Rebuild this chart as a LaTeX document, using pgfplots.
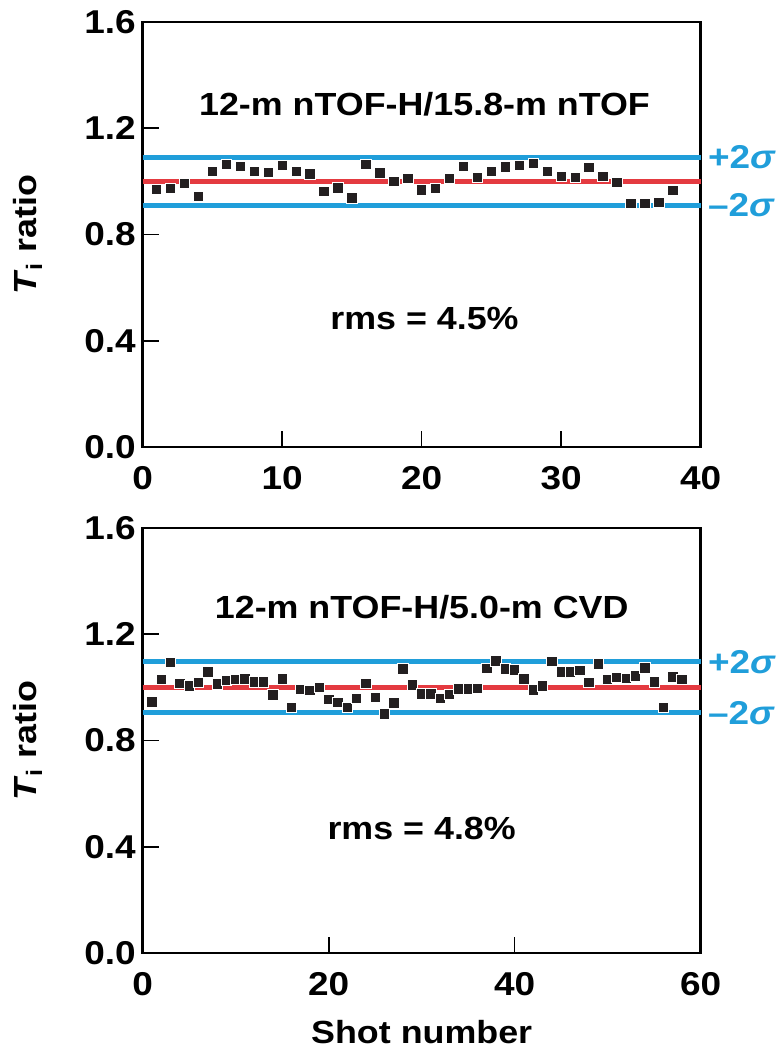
\documentclass[border=0pt]{standalone}
\usepackage{pgfplots}
\pgfplotsset{compat=1.18}
\usepackage{fontspec}
\setmainfont{Liberation Sans}[FakeStretch=1.12]

\definecolor{sigblue}{RGB}{32,158,218}
\definecolor{meanred}{RGB}{228,58,64}
\definecolor{pt}{RGB}{35,31,32}

\tikzset{
  ttl/.style={font=\bfseries\fontsize{16}{16}\selectfont},
  sgl/.style={font=\bfseries\fontsize{16.5}{16.5}\selectfont, text=sigblue, anchor=west, inner sep=0pt},
}

\pgfplotsset{
  ratioaxis/.style={
    scale only axis,
    width=279pt, height=212.5pt,
    ymin=0, ymax=1.6,
    ytick={0,0.4,0.8,1.2,1.6},
    axis line style={line width=1.4pt},
    tick align=inside,
    xtick pos=bottom, ytick pos=left,
    major tick length=8pt,
    tick style={line width=0.8pt, black},
    /pgf/number format/assume math mode=true,
    tick label style={font=\bfseries\fontsize{16.5}{16.5}\selectfont},
    yticklabel style={/pgf/number format/.cd, fixed, fixed zerofill, precision=1},
    xticklabel style={yshift=-6pt},
    ylabel={\textit{T}\textsubscript{i} ratio},
    ylabel style={font=\bfseries\fontsize{16}{16}\selectfont,
      at={(axis description cs:-0.2056,0.5)}, anchor=center},
    clip=false,
  },
  pts/.style={only marks, mark=square*, mark size=2.6pt,
    mark options={fill=pt, draw=white, line width=0.4pt}},
  sig/.style={sigblue, line width=2.4pt, no marks},
  mean/.style={meanred, line width=2.2pt, no marks},
}

\begin{document}
\begin{tikzpicture}
\useasboundingbox (0,0) rectangle (391pt,525.5pt);

% upper panel
\begin{axis}[ratioaxis,
  at={(71.35pt,302pt)}, anchor=south west,
  xmin=0, xmax=40, xtick={0,10,20,30,40},
]
\addplot[sig] coordinates {(0,1.09)(40,1.09)};
\addplot[sig] coordinates {(0,0.91)(40,0.91)};
\addplot[mean] coordinates {(0,1.0)(40,1.0)};
\addplot[pts] coordinates {
(1,0.969)(2,0.974)(3,0.993)(4,0.943)(5,1.037)(6,1.063)(7,1.057)(8,1.037)
(9,1.034)(10,1.059)(11,1.037)(12,1.028)(13,0.963)(14,0.975)(15,0.938)
(16,1.063)(17,1.032)(18,1.000)(19,1.011)(20,0.968)(21,0.974)(22,1.011)
(23,1.057)(24,1.015)(25,1.038)(26,1.055)(27,1.059)(28,1.068)(29,1.038)
(30,1.018)(31,1.015)(32,1.053)(33,1.019)(34,0.997)(35,0.918)(36,0.918)
(37,0.920)(38,0.965)};
\node[ttl] at (axis cs:20.2,1.29) {12-m nTOF-H/15.8-m nTOF};
\node[ttl] at (axis cs:20.2,0.485) {rms = 4.5\%};
\node[sgl] at ([xshift=3.5pt]axis cs:40,1.09) {+2\textit{σ}};
\node[sgl] at ([xshift=3.5pt]axis cs:40,0.91) {–2\textit{σ}};
\end{axis}

% lower panel
\begin{axis}[ratioaxis,
  at={(71.35pt,49pt)}, anchor=south west,
  xmin=0, xmax=60, xtick={0,20,40,60},
  xlabel={Shot number},
  xlabel style={font=\bfseries\fontsize{16}{16}\selectfont,
    at={(axis description cs:0.5,-0.214)}, anchor=base},
]
\addplot[sig] coordinates {(0,1.096)(60,1.096)};
\addplot[sig] coordinates {(0,0.904)(60,0.904)};
\addplot[mean] coordinates {(0,1.0)(60,1.0)};
\addplot[pts] coordinates {
(1,0.945)(2,1.030)(3,1.093)(4,1.015)(5,1.005)(6,1.019)(7,1.059)(8,1.013)
(9,1.027)(10,1.029)(11,1.032)(12,1.020)(13,1.020)(14,0.971)(15,1.032)
(16,0.924)(17,0.993)(18,0.988)(19,1.000)(20,0.955)(21,0.944)(22,0.924)
(23,0.959)(24,1.015)(25,0.963)(26,0.900)(27,0.942)(28,1.070)(29,1.009)
(30,0.975)(31,0.975)(32,0.959)(33,0.974)(34,0.994)(35,0.994)(36,0.997)
(37,1.072)(38,1.099)(39,1.069)(40,1.066)(41,1.032)(42,0.990)(43,1.006)
(44,1.097)(45,1.059)(46,1.059)(47,1.063)(48,1.018)(49,1.088)(50,1.031)
(51,1.038)(52,1.034)(53,1.043)(54,1.073)(55,1.021)(56,0.924)(57,1.040)
(58,1.031)};
\node[ttl] at (axis cs:30,1.30) {12-m nTOF-H/5.0-m CVD};
\node[ttl] at (axis cs:30,0.47) {rms = 4.8\%};
\node[sgl] at ([xshift=3.5pt]axis cs:60,1.096) {+2\textit{σ}};
\node[sgl] at ([xshift=3.5pt]axis cs:60,0.904) {–2\textit{σ}};
\end{axis}
\end{tikzpicture}
\end{document}
